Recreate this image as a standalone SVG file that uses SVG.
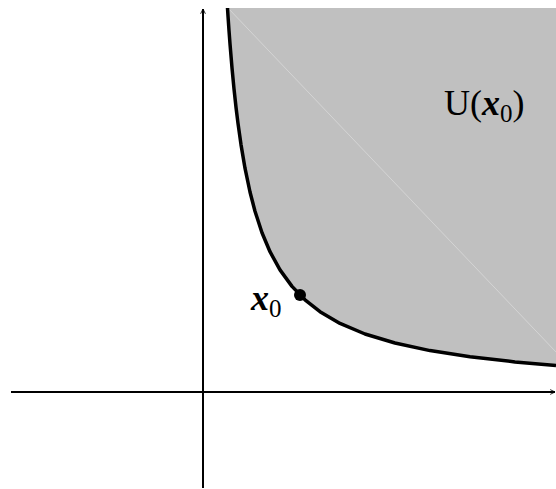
<svg xmlns="http://www.w3.org/2000/svg" width="556" height="489" viewBox="0 0 556 489">
<style>
.ax{stroke:#000;stroke-width:2;fill:none}
.lbl{font-family:"Liberation Serif",serif;fill:#000}
</style>
<defs>
<marker id="arr" viewBox="0 0 10 10" refX="9" refY="5" markerWidth="6" markerHeight="6" orient="auto" markerUnits="userSpaceOnUse">
<path d="M1,1 L9,5 L1,9" fill="none" stroke="#000" stroke-width="1.4"/>
</marker>
</defs>
<rect width="556" height="489" fill="#fff"/>
<g id="region">
<polygon fill="#c0c0c0" points="556,8 227.5,8 228,16 229,30.5 230,43.9 232,67.9 234,88.8 236,107.2 238,123.4 241,144.6 245,168.2 250,192 255,211.2 262,232.7 270,251.7 280,269.9 292,286.4 305,299.8 320,311.7 340,323.4 365,334 395,343 430,350.6 470,356.8 515,361.9 556,365.4"/>
<line x1="228" y1="8" x2="556" y2="352" stroke="#d4d4d4" stroke-width="1"/>
</g>
<g id="connectors">
<line class="ax" x1="11" y1="392" x2="555" y2="392" marker-end="url(#arr)"/>
<line class="ax" x1="203" y1="488" x2="203" y2="9" marker-end="url(#arr)"/>
</g>
<g id="curve">
<polyline fill="none" stroke="#000" stroke-width="3.5" stroke-linejoin="round" points="227.5,8 228,16 229,30.5 230,43.9 232,67.9 234,88.8 236,107.2 238,123.4 241,144.6 245,168.2 250,192 255,211.2 262,232.7 270,251.7 280,269.9 292,286.4 305,299.8 320,311.7 340,323.4 365,334 395,343 430,350.6 470,356.8 515,361.9 556,365.4"/>
</g>
<g id="point">
<circle cx="300" cy="295" r="6" fill="#000"/>
<text class="lbl" x="251" y="310" font-size="36" font-weight="bold" font-style="italic">x<tspan font-size="25" font-weight="normal" font-style="normal" dy="7">0</tspan></text>
</g>
<g id="label">
<text class="lbl" x="444" y="115" font-size="36">U(<tspan font-weight="bold" font-style="italic">x</tspan><tspan font-size="25" dy="7">0</tspan><tspan dy="-7">)</tspan></text>
</g>
</svg>
